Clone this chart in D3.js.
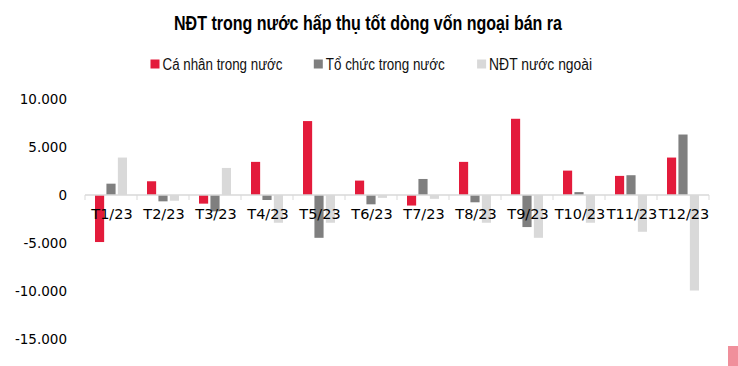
<html>
    <head>
        <script src="https://d3js.org/d3.v7.min.js"></script>
        <style>
            body { margin: 0; background: #fff; }
            .title { font: bold 19.5px 'Liberation Sans', Arial, sans-serif; fill: #000; }
            .legend text { font: 16px 'Liberation Sans', Arial, sans-serif; fill: #111; }
            .yaxis text { font: 13.5px 'DejaVu Sans', sans-serif; fill: #000; }
            .xlabels text { font: 14.5px 'DejaVu Sans', sans-serif; fill: #000; }
        </style>
    </head>
    <body>
        <svg width="738" height="366"></svg>
        <script>
            var months = ['T1/23', 'T2/23', 'T3/23', 'T4/23', 'T5/23', 'T6/23',
                          'T7/23', 'T8/23', 'T9/23', 'T10/23', 'T11/23', 'T12/23'];
            var seriesNames = ['Cá nhân trong nước', 'Tổ chức trong nước', 'NĐT nước ngoài'];
            // ty dong
            var caNhan  = [-4900, 1430, -900, 3450, 7700, 1500, -1100, 3450, 7940, 2540, 1990, 3900];
            var toChuc  = [1180, -660, -1700, -520, -4460, -970, 1670, -760, -3340, 300, 2060, 6300];
            var nuocNgoai = [3900, -600, 2820, -2890, -2890, -300, -400, -2890, -4460, -2890, -3830, -9950];
            var yTicks = [10000, 5000, 0, -5000, -10000, -15000];
            var colors = ['#e31b3b', '#7f7f7f', '#d9d9d9'];

            var svg = d3.select('svg');
            var allSeries = [caNhan, toChuc, nuocNgoai];

            var x = d3.scaleBand().domain(months).range([85, 709]).padding(0);
            var x1 = d3.scaleBand().domain(d3.range(3)).range([10, 42]).paddingInner(0.2);
            var y = d3.scaleLinear().domain([-15000, 10000]).range([339, 99]);

            // title (the original uses a narrow font, so squeeze it)
            svg.append('text')
                .attr('class', 'title')
                .attr('x', 174)
                .attr('y', 30)
                .attr('textLength', 388)
                .attr('lengthAdjust', 'spacingAndGlyphs')
                .text('NĐT trong nước hấp thụ tốt dòng vốn ngoại bán ra');

            // legend
            var legendWidths = [120, 119, 103];
            var legend = svg.append('g').attr('class', 'legend')
                .selectAll('g')
                .data(seriesNames)
                .enter()
                .append('g')
                .attr('transform', (d, i) => 'translate(' + (150.5 + i * 163.3) + ',59.5)');
            legend.append('rect')
                .attr('width', 9)
                .attr('height', 9)
                .style('fill', (d, i) => colors[i]);
            legend.append('text')
                .attr('x', 12)
                .attr('y', 10.5)
                .attr('textLength', (d, i) => legendWidths[i])
                .attr('lengthAdjust', 'spacingAndGlyphs')
                .text(d => d);

            // y axis labels
            var yAxis = d3.axisLeft(y)
                .tickValues(yTicks)
                .tickSize(0)
                .tickPadding(0)
                .tickFormat(d => d3.format(',')(d).replace(/,/g, '.').replace('−', '-'));
            svg.append('g')
                .attr('class', 'yaxis')
                .attr('transform', 'translate(67,0)')
                .call(yAxis)
                .call(g => g.select('.domain').remove());

            // bars
            var groups = svg.append('g')
                .selectAll('g')
                .data(months)
                .enter()
                .append('g')
                .attr('transform', d => 'translate(' + x(d) + ',0)');
            groups.selectAll('rect')
                .data((d, i) => allSeries.map((s, k) => ({ k: k, v: s[i] })))
                .enter()
                .append('rect')
                .attr('x', d => x1(d.k))
                .attr('width', x1.bandwidth())
                .attr('y', d => y(Math.max(0, d.v)))
                .attr('height', d => Math.abs(y(d.v) - y(0)))
                .style('fill', d => colors[d.k]);

            // zero line with category ticks
            var zero = svg.append('g').attr('transform', 'translate(0,' + y(0) + ')');
            zero.append('line')
                .attr('x1', 85).attr('x2', 709)
                .style('stroke', '#d9d9d9').style('stroke-width', 1.5);
            zero.selectAll('.tk')
                .data(months.map(m => x(m)).concat([x.range()[1]]))
                .enter()
                .append('line')
                .attr('x1', d => d).attr('x2', d => d)
                .attr('y1', 0).attr('y2', 5)
                .style('stroke', '#d9d9d9').style('stroke-width', 1);

            // category labels
            svg.append('g')
                .attr('class', 'xlabels')
                .selectAll('text')
                .data(months)
                .enter()
                .append('text')
                .attr('x', d => x(d) + x.bandwidth() / 2 + 1)
                .attr('y', 219)
                .attr('text-anchor', 'middle')
                .text(d => d);

            // little pink marker at bottom right corner
            svg.append('rect')
                .attr('x', 728).attr('y', 346)
                .attr('width', 10).attr('height', 20)
                .style('fill', '#f08f9b');
        </script>
    </body>
</html>
